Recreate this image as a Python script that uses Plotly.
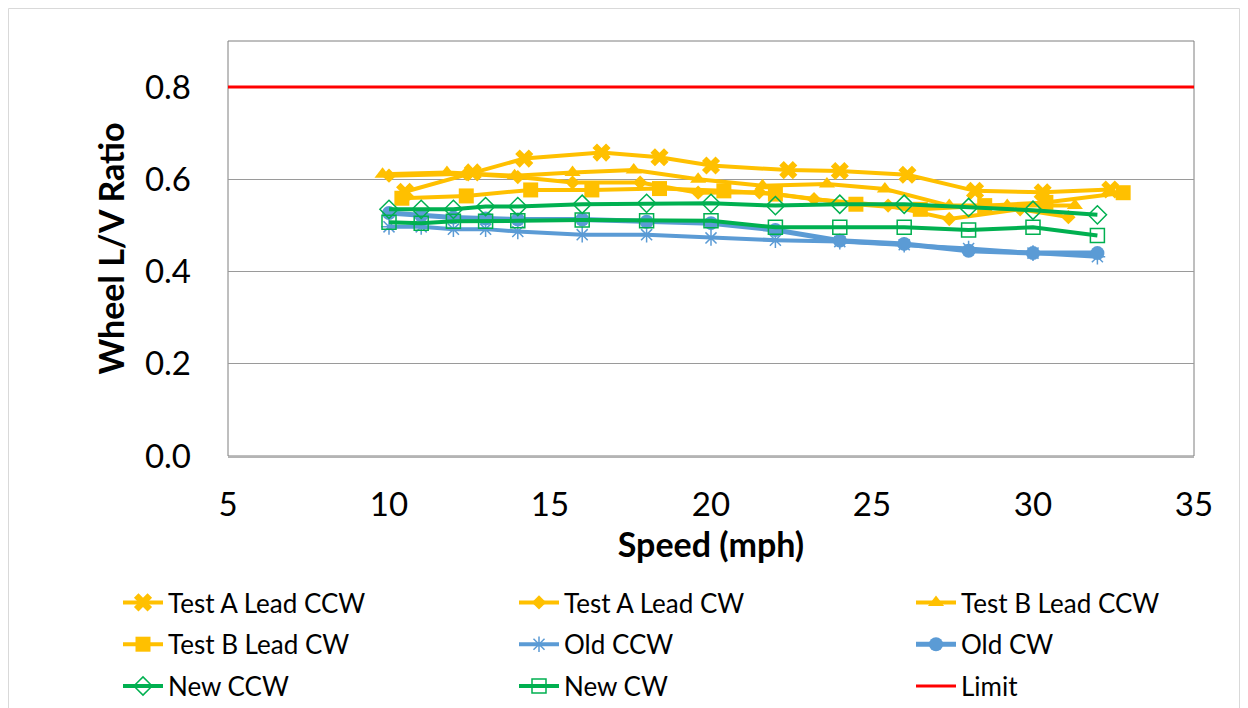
import plotly.graph_objects as go

# ---- data ----
a_ccw_x = [10.5, 12.6, 14.2, 16.6, 18.4, 20.0, 22.4, 24.0, 26.1, 28.2, 30.3, 32.4]
a_ccw_y = [0.573, 0.615, 0.645, 0.658, 0.648, 0.630, 0.620, 0.618, 0.610, 0.575, 0.572, 0.578]

a_cw_x = [10.0, 12.4, 14.0, 15.7, 17.8, 19.6, 21.5, 23.2, 25.5, 27.4, 29.6, 31.1]
a_cw_y = [0.608, 0.612, 0.605, 0.593, 0.593, 0.571, 0.572, 0.557, 0.543, 0.514, 0.535, 0.518]

b_ccw_x = [9.8, 11.8, 13.9, 15.7, 17.6, 19.6, 21.6, 23.6, 25.4, 27.4, 29.2, 31.3]
b_ccw_y = [0.611, 0.615, 0.608, 0.615, 0.620, 0.600, 0.586, 0.590, 0.579, 0.543, 0.543, 0.543]

b_cw_x = [10.4, 12.4, 14.4, 16.3, 18.4, 20.4, 22.0, 24.5, 26.5, 28.5, 30.4, 32.8]
b_cw_y = [0.559, 0.564, 0.577, 0.577, 0.580, 0.575, 0.568, 0.546, 0.535, 0.543, 0.550, 0.571]

speeds = [10, 11, 12, 13, 14, 16, 18, 20, 22, 24, 26, 28, 30, 32]
old_ccw_y = [0.497, 0.497, 0.492, 0.492, 0.487, 0.480, 0.480, 0.473, 0.468, 0.465, 0.458, 0.450, 0.440, 0.432]
old_cw_y = [0.527, 0.522, 0.517, 0.515, 0.513, 0.513, 0.508, 0.505, 0.490, 0.467, 0.460, 0.445, 0.440, 0.440]
new_ccw_y = [0.535, 0.535, 0.535, 0.541, 0.541, 0.546, 0.548, 0.548, 0.543, 0.546, 0.546, 0.539, 0.533, 0.523]
new_cw_y = [0.507, 0.505, 0.509, 0.509, 0.510, 0.512, 0.510, 0.510, 0.496, 0.496, 0.496, 0.490, 0.496, 0.478]

limit_x = [5, 35]
limit_y = [0.8, 0.8]

x_ticks = [5, 10, 15, 20, 25, 30, 35]
y_ticks = [0.0, 0.2, 0.4, 0.6, 0.8]

YEL = "#FFC000"
BLU = "#5B9BD5"
GRN = "#00B050"
RED = "#FF0000"
FONT = "Lato"

fig = go.Figure()

def add(name, x, y, color, symbol, size, legend, lw=4, mline=None):
    marker = dict(symbol=symbol, size=size, color=color)
    if mline is not None:
        marker["line"] = dict(color=color, width=mline)
    fig.add_trace(go.Scatter(
        x=x, y=y, name=name, mode="lines+markers" if symbol else "lines",
        line=dict(color=color, width=lw), marker=marker,
        legend=legend, legendgroup=name))

add("Test A Lead CCW", a_ccw_x, a_ccw_y, YEL, "x", 16, "legend")
add("Test A Lead CW", a_cw_x, a_cw_y, YEL, "diamond", 11, "legend2")
add("Test B Lead CCW", b_ccw_x, b_ccw_y, YEL, "triangle-up", 14, "legend3")
add("Test B Lead CW", b_cw_x, b_cw_y, YEL, "square", 15, "legend")
add("Old CCW", speeds, old_ccw_y, BLU, "asterisk-open", 13, "legend2", mline=1.5)
add("Old CW", speeds, old_cw_y, BLU, "circle", 14, "legend3", lw=5)
add("New CCW", speeds, new_ccw_y, GRN, "diamond-open", 14, "legend", mline=1.5)
add("New CW", speeds, new_cw_y, GRN, "square-open", 14, "legend2", mline=1.5)
add("Limit", limit_x, limit_y, RED, None, 0, "legend3", lw=3)

legend_common = dict(font=dict(family=FONT, size=26, color="black"),
                     bgcolor="rgba(0,0,0,0)", traceorder="grouped",
                     tracegroupgap=5, yanchor="top", xanchor="left",
                     itemwidth=40)

W, H = 1248, 708
L, R, T, B = 228, 54, 41, 252
pw, ph = W - L - R, H - T - B

def px2x(p):
    return (p - L) / pw

def py2y(p):
    return (H - B - p) / ph

fig.update_layout(
    width=W, height=H,
    margin=dict(l=L, r=R, t=T, b=B, autoexpand=False),
    paper_bgcolor="white", plot_bgcolor="white",
    font=dict(family=FONT, color="black"),
    showlegend=True,
    legend=dict(x=px2x(118), y=py2y(579), **legend_common),
    legend2=dict(x=px2x(514), y=py2y(579), **legend_common),
    legend3=dict(x=px2x(911), y=py2y(579), **legend_common),
    xaxis=dict(range=[5, 35], tickvals=x_ticks, showgrid=False, zeroline=False,
               showline=True, linecolor="#b4b4b4", linewidth=2, automargin=False,
               ticks="", tickfont=dict(size=33, family=FONT), ticklabelstandoff=18,
               title=dict(text="<b>Speed (mph)</b>", font=dict(size=34, family=FONT), standoff=6)),
    yaxis=dict(range=[0, 0.9], tickvals=y_ticks, tickformat=".1f", showgrid=True,
               gridcolor="#9a9a9a", gridwidth=1.3, zeroline=False, showline=False,
               automargin=False,
               ticks="", tickfont=dict(size=33, family=FONT), ticklabelstandoff=36,
               title=dict(text="<b>Wheel L/V Ratio</b>", font=dict(size=34, family=FONT), standoff=10)),
    shapes=[
        dict(type="rect", xref="paper", yref="paper", x0=0, x1=1, y0=0, y1=1,
             line=dict(color="#7f7f7f", width=1), layer="below"),
        dict(type="rect", xref="paper", yref="paper",
             x0=px2x(8.5), x1=px2x(1239.5), y0=py2y(720), y1=py2y(8.5),
             line=dict(color="#d9d9d9", width=1)),
    ],
)

fig.write_html("out.html")
